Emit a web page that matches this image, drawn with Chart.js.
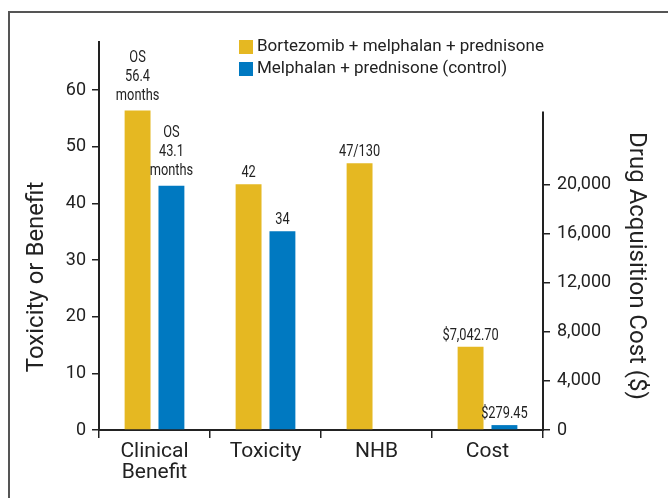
<!DOCTYPE html>
<html>
<head>
<meta charset="utf-8">
<script src="https://cdn.jsdelivr.net/npm/chart.js@4"></script>
<style>
  html, body { margin: 0; padding: 0; background: #fff; overflow: hidden; }
  #frame { position: absolute; left: 8px; top: 11px; width: 700px; height: 600px; border: 2px solid #555; }
  #chart { position: absolute; left: 0; top: 0; }
</style>
</head>
<body>
<div id="frame"></div>
<canvas id="chart" width="668" height="498"></canvas>
<script>
const categories = [['Clinical', 'Benefit'], 'Toxicity', 'NHB', 'Cost'];
const seriesNames = ['Bortezomib + melphalan + prednisone', 'Melphalan + prednisone (control)'];
const seriesColors = ['#E5B822', '#0079C1'];

// scores, left axis (null where the bar belongs to the cost axis)
const bmpScores = [56.4, 43.4, 47.1, null];
const mpScores = [43.1, 35.1, null, null];
// drug acquisition cost, right axis ($)
const bmpCost = [null, null, null, 6800];
const mpCost = [null, null, null, 400];

// text printed above each bar
const bmpLabels = [['OS', '56.4', 'months'], ['42'], ['47/130'], ['$7,042.70']];
const mpLabels = [['OS', '43.1', 'months'], ['34'], [], ['$279.45']];

const scoreTicks = [0, 10, 20, 30, 40, 50, 60];
const costTicks = [0, 4000, 8000, 12000, 16000, 20000];
const costAxisTop = 26000;

const ink = '#222';

// values over the bars, in a narrowed face
const barLabels = {
  id: 'barLabels',
  afterDatasetsDraw(chart) {
    const ctx = chart.ctx;
    ctx.save();
    ctx.font = '16px Roboto';
    ctx.fillStyle = ink;
    ctx.textAlign = 'center';
    ctx.textBaseline = 'alphabetic';
    chart.data.datasets.forEach((ds, di) => {
      chart.getDatasetMeta(di).data.forEach((bar, i) => {
        if (ds.data[i] == null) return;
        const lines = ds.barText[i];
        const gap = lines.length > 1 ? 11 : 7;
        lines.forEach((t, k) => {
          ctx.save();
          ctx.translate(bar.x, bar.y - gap - (lines.length - 1 - k) * 19);
          ctx.scale(0.8, 1);
          ctx.fillText(t, 0, 0);
          ctx.restore();
        });
      });
    });
    ctx.restore();
  }
};

// legend sitting inside the plot, plus axis titles and the short right axis line
const decorations = {
  id: 'decorations',
  afterDraw(chart) {
    const { ctx, chartArea } = chart;
    ctx.save();

    // legend
    ctx.font = '17px Roboto';
    ctx.textBaseline = 'middle';
    ctx.textAlign = 'left';
    seriesNames.forEach((name, i) => {
      const x = chartArea.left + 140;
      const y = chartArea.top - 2 + i * 22;
      ctx.fillStyle = seriesColors[i];
      ctx.fillRect(x, y, 14, 14);
      ctx.fillStyle = ink;
      ctx.fillText(name, x + 18, y + 7);
    });

    // right axis line, stops below the legend
    const y2 = chart.scales.y2;
    ctx.strokeStyle = ink;
    ctx.lineWidth = 2;
    ctx.beginPath();
    ctx.moveTo(chartArea.right, y2.getPixelForValue(costAxisTop));
    ctx.lineTo(chartArea.right, chartArea.bottom + 1);
    ctx.stroke();

    // axis titles
    const mid = (chartArea.top + chartArea.bottom) / 2;
    ctx.font = '24px Roboto';
    ctx.textAlign = 'center';
    ctx.fillStyle = ink;
    ctx.translate(chartArea.left - 62, mid + 41);
    ctx.rotate(-Math.PI / 2);
    ctx.fillText('Toxicity or Benefit', 0, 0);
    ctx.setTransform(1, 0, 0, 1, 0, 0);
    ctx.translate(chartArea.right + 93, mid + 30);
    ctx.rotate(Math.PI / 2);
    ctx.fillText('Drug Acquisition Cost ($)', 0, 0);
    ctx.restore();
  }
};

const tickGrid = { drawOnChartArea: false, tickLength: 7, color: ink, lineWidth: 1.5 };

new Chart(document.getElementById('chart'), {
  type: 'bar',
  data: {
    labels: categories,
    datasets: [
      { label: seriesNames[0], data: bmpScores, stack: 'bmp', yAxisID: 'y', backgroundColor: seriesColors[0], barText: bmpLabels },
      { label: seriesNames[1], data: mpScores, stack: 'mp', yAxisID: 'y', backgroundColor: seriesColors[1], barText: mpLabels },
      { label: seriesNames[0], data: bmpCost, stack: 'bmp', yAxisID: 'y2', backgroundColor: seriesColors[0], barText: bmpLabels },
      { label: seriesNames[1], data: mpCost, stack: 'mp', yAxisID: 'y2', backgroundColor: seriesColors[1], barText: mpLabels }
    ]
  },
  options: {
    responsive: false,
    animation: false,
    categoryPercentage: 0.61,
    barPercentage: 0.765,
    layout: { padding: { top: 42, left: 0, right: 0, bottom: 0 } },
    plugins: {
      legend: { display: false },
      tooltip: { enabled: false }
    },
    scales: {
      x: {
        grid: { offset: true, drawOnChartArea: false, tickLength: 8, color: ink, lineWidth: 1.5 },
        border: { color: ink, width: 2 },
        ticks: { color: ink, font: { family: 'Roboto', size: 21, lineHeight: 1 }, padding: 3, maxRotation: 0, autoSkip: false },
        afterFit: s => { s.height = 68; }
      },
      y: {
        position: 'left',
        min: 0,
        max: 68.5,
        stacked: false,
        afterBuildTicks: s => { s.ticks = scoreTicks.map(v => ({ value: v })); },
        grid: tickGrid,
        border: { color: ink, width: 2 },
        ticks: { color: ink, font: { family: 'Roboto', size: 18 }, padding: 6 },
        afterFit: s => { s.width = 99; }
      },
      y2: {
        position: 'right',
        min: 0,
        max: 31670,
        stacked: false,
        afterBuildTicks: s => { s.ticks = costTicks.map(v => ({ value: v })); },
        grid: tickGrid,
        border: { display: false },
        ticks: { color: ink, font: { family: 'Roboto', size: 18 }, padding: 7, callback: v => v.toLocaleString('en-US') },
        afterFit: s => { s.width = 125; }
      }
    }
  },
  plugins: [barLabels, decorations]
});
</script>
</body>
</html>
